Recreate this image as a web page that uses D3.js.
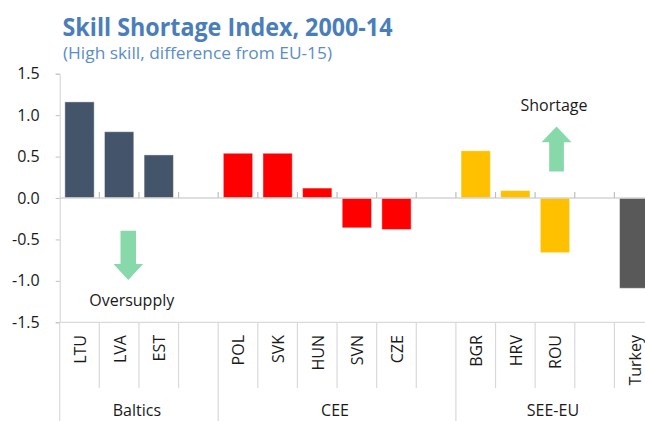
<!DOCTYPE html>
<html>
<head>
<meta charset="utf-8">
<script src="https://cdn.jsdelivr.net/npm/d3@7"></script>
<style>
  html, body { margin: 0; padding: 0; background: #fff; }
  svg { display: block; font-family: "Open Sans", "Noto Sans", sans-serif; }
</style>
</head>
<body>
<svg id="chart" width="645" height="421"></svg>
<script>
// ---- data ----
const categories = ["LTU", "LVA", "EST", "", "POL", "SVK", "HUN", "SVN", "CZE", "", "BGR", "HRV", "ROU", "", "Turkey"];
const values     = [1.16, 0.80, 0.52, null, 0.54, 0.54, 0.12, -0.36, -0.38, null, 0.57, 0.09, -0.66, null, -1.09];
const barColors  = ["#44546A", "#44546A", "#44546A", null, "#FF0000", "#FF0000", "#FF0000", "#FF0000", "#FF0000", null, "#FFC000", "#FFC000", "#FFC000", null, "#595959"];
const groupNames  = ["Baltics", "CEE", "SEE-EU"];
const groupStarts = [0, 4, 10];
const groupEnds   = [4, 10, 15];
const yTicks = [-1.5, -1.0, -0.5, 0.0, 0.5, 1.0, 1.5];
const title = "Skill Shortage Index, 2000-14";
const subtitle = "(High skill, difference from EU-15)";

// ---- layout ----
const svg = d3.select("#chart");
const plotLeft = 59.7, plotRight = 654, plotTop = 73.7, plotBottom = 322.3;

const x = d3.scaleBand()
  .domain(d3.range(categories.length))
  .range([plotLeft, plotRight])
  .paddingInner(0.26)
  .paddingOuter(0.13);
const step = x.step();

const y = d3.scaleLinear().domain([-1.5, 1.5]).range([plotBottom, plotTop]);

// ---- title ----
svg.append("text")
  .attr("x", 62.5).attr("y", 35.7)
  .attr("fill", "#4A7EBB")
  .attr("font-size", 24.5).attr("font-weight", "bold")
  .attr("textLength", 330).attr("lengthAdjust", "spacingAndGlyphs")
  .text(title);
svg.append("text")
  .attr("x", 63).attr("y", 59.3)
  .attr("fill", "#5B8DC8")
  .attr("font-size", 17)
  .attr("textLength", 269).attr("lengthAdjust", "spacingAndGlyphs")
  .text(subtitle);

// ---- y axis ----
const yAxis = d3.axisLeft(y).tickValues(yTicks).tickFormat(d3.format(".1f")).tickSize(4).tickPadding(16);
const gy = svg.append("g").attr("transform", `translate(${plotLeft},0)`).call(yAxis);
gy.select(".domain").attr("stroke", "#D0D0D0").attr("stroke-width", 1);
gy.selectAll(".tick line").attr("stroke", "#BFBFBF");
gy.selectAll(".tick text")
  .attr("font-size", 16).attr("fill", "#1a1a1a")
  .attr("font-family", "'Open Sans', sans-serif")
  .text(d => d3.format(".1f")(d).replace("−", "-"));

// ---- label area grid ----
svg.append("line")
  .attr("x1", plotLeft).attr("x2", 645)
  .attr("y1", plotBottom).attr("y2", plotBottom)
  .attr("stroke", "#D9D9D9").attr("stroke-width", 1.2);

const boundaries = d3.range(categories.length + 1);
svg.append("g").selectAll("line")
  .data(boundaries)
  .join("line")
  .attr("x1", i => plotLeft + i * step).attr("x2", i => plotLeft + i * step)
  .attr("y1", plotBottom)
  .attr("y2", i => groupStarts.includes(i) || i === categories.length ? 421 : 388)
  .attr("stroke", "#D9D9D9").attr("stroke-width", 1.2);

// ---- bars ----
svg.append("g").selectAll("rect")
  .data(values.map((v, i) => ({ v, i })).filter(d => d.v !== null))
  .join("rect")
  .attr("x", d => x(d.i))
  .attr("width", x.bandwidth())
  .attr("y", d => y(Math.max(0, d.v)))
  .attr("height", d => Math.abs(y(d.v) - y(0)))
  .attr("fill", d => barColors[d.i])
  .attr("stroke", "rgba(255,255,255,0.45)")
  .attr("stroke-width", 1);

// ---- zero line with upward ticks ----
svg.append("line")
  .attr("x1", plotLeft).attr("x2", 645)
  .attr("y1", y(0)).attr("y2", y(0))
  .attr("stroke", "#D4D4D4").attr("stroke-width", 1.7);
svg.append("g").selectAll("line")
  .data(d3.range(1, categories.length + 1))
  .join("line")
  .attr("x1", i => plotLeft + i * step).attr("x2", i => plotLeft + i * step)
  .attr("y1", y(0)).attr("y2", y(0) - 6)
  .attr("stroke", "#BFBFBF").attr("stroke-width", 1.2);

// ---- category labels ----
svg.append("g").selectAll("text")
  .data(categories.map((c, i) => ({ c, i })).filter(d => d.c !== ""))
  .join("text")
  .attr("transform", d => `translate(${x(d.i) + x.bandwidth() / 2},335) rotate(-90)`)
  .attr("text-anchor", "end")
  .attr("dy", "0.4em")
  .attr("font-size", 16).attr("fill", "#1a1a1a")
  .text(d => d.c);

// ---- group labels ----
svg.append("g").selectAll("text")
  .data(groupNames.map((g, k) => ({ g, k })))
  .join("text")
  .attr("x", d => (plotLeft + groupStarts[d.k] * step + plotLeft + groupEnds[d.k] * step) / 2 - 2)
  .attr("y", 416)
  .attr("text-anchor", "middle")
  .attr("font-size", 16).attr("fill", "#1a1a1a")
  .text(d => d.g);

// ---- annotations ----
function arrowPath(cx, yBase, yHeadBase, yTip, shaftW, headW) {
  return `M${cx - shaftW / 2},${yBase} L${cx + shaftW / 2},${yBase} L${cx + shaftW / 2},${yHeadBase} ` +
         `L${cx + headW / 2},${yHeadBase} L${cx},${yTip} L${cx - headW / 2},${yHeadBase} L${cx - shaftW / 2},${yHeadBase} Z`;
}
// Oversupply (down arrow)
const downCx = plotLeft + 1.73 * step;
svg.append("path")
  .attr("d", arrowPath(downCx, y(-0.395), y(-0.795), y(-0.99), 15.5, 29.5))
  .attr("fill", "#87D9A9");
svg.append("text")
  .attr("x", downCx + 3.5).attr("y", y(-1.3))
  .attr("text-anchor", "middle").attr("font-size", 16).attr("fill", "#1a1a1a")
  .text("Oversupply");

// Shortage (up arrow)
const upCx = plotLeft + 12.54 * step;
svg.append("path")
  .attr("d", arrowPath(upCx, y(0.32), y(0.672), y(0.862), 14.7, 30))
  .attr("fill", "#87D9A9");
svg.append("text")
  .attr("x", upCx - 2.5).attr("y", y(1.047))
  .attr("text-anchor", "middle").attr("font-size", 16).attr("fill", "#1a1a1a")
  .text("Shortage");
</script>
</body>
</html>
